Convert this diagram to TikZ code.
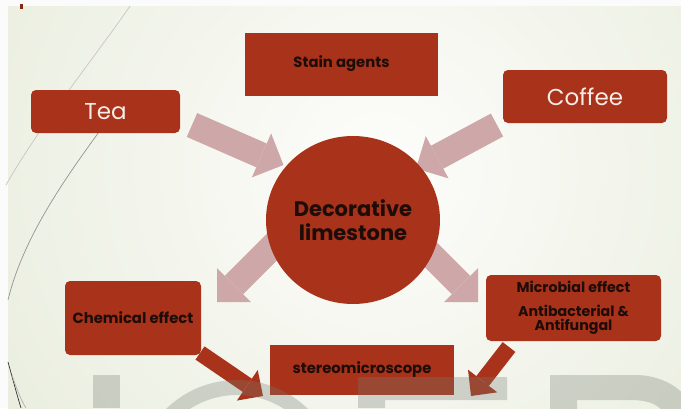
\documentclass[tikz,border=0pt]{standalone}
\usepackage{fontspec}
\setmainfont{Poppins}
\usetikzlibrary{arrows.meta,shapes.geometric}
\definecolor{boxred}{RGB}{168,50,26}
\definecolor{pinkc}{RGB}{206,168,168}
\definecolor{txtdark}{RGB}{30,12,8}
\definecolor{txtlight}{RGB}{246,236,232}
\definecolor{bgin}{RGB}{253,253,251}
\definecolor{bgout}{RGB}{228,233,214}
\definecolor{wm}{RGB}{120,125,115}
\begin{document}
\begin{tikzpicture}[x=1pt,y=-1pt,
  rbox/.style={fill=boxred, rounded corners=5pt, inner sep=0pt, align=center},
  sbox/.style={fill=boxred, inner sep=0pt, align=center},
  ltext/.style={text=txtlight, font=\fontsize{23}{26}\selectfont},
  btext/.style={text=txtdark, font=\bfseries\fontsize{14.8}{15}\selectfont},
  pinkarrow/.style={draw=pinkc, line width=26pt, -{Triangle[width=48pt,length=24pt,line width=0pt]}},
  redarrow/.style={draw=boxred, line width=16pt, -{Triangle[width=37pt,length=19pt,line width=0pt]}},
  decor/.style={line width=0.7pt}
]
\useasboundingbox (0,0) rectangle (681,408);
% background
\fill[white!97!gray] (0,0) rectangle (681,408);
\begin{scope}
  \clip (8,6) rectangle (681,408);
  \shade[inner color=bgin, outer color=bgout] (380,170) circle (580);
\end{scope}
\fill[boxred!80!black] (20,4) rectangle (23,9);
% decorative arcs
\draw[decor, gray!45] (130,6) .. controls (100,50) and (40,125) .. (6,185);
\draw[decor, gray!85] (115,110) .. controls (75,165) and (25,230) .. (8,300);
\draw[decor, gray!40!black] (8,362) .. controls (13,380) and (17,395) .. (21,408);
\draw[decor, gray!60] (12,375) .. controls (17,390) and (21,400) .. (26,408);
% arrow end points
\coordinate (teaT) at (192,125);   \coordinate (teaH) at (283.5,165);
\coordinate (cofT) at (497,125);   \coordinate (cofH) at (416,168.6);
\coordinate (blT) at (290,229);    \coordinate (blH) at (217,302);
\coordinate (brT) at (414,238);    \coordinate (brH) at (478,302);
\coordinate (chT) at (200,353);    \coordinate (chH) at (263,396);
\coordinate (miT) at (509,347);    \coordinate (miH) at (471,396);
% pink arrows
\draw[pinkarrow] (teaT) -- (teaH);
\draw[pinkarrow] (cofT) -- (cofH);
\draw[pinkarrow] (blT) -- (blH);
\draw[pinkarrow] (brT) -- (brH);
% circle
\node[ellipse, fill=boxred, minimum width=174pt, minimum height=168pt, inner sep=0pt,
      align=center, text=txtdark, font=\bfseries\fontsize{21}{24}\selectfont]
      (lime) at (353,220) {Decorative\\limestone};
% boxes
\node[rbox, ltext, minimum width=149pt, minimum height=43pt] (tea) at (105.5,111.5) {Tea};
\node[sbox, btext, minimum width=193pt, minimum height=63pt] (stain) at (341.5,64) {Stain agents};
\node[rbox, ltext, minimum width=164pt, minimum height=53pt] (coffee) at (585,96.5) {Coffee};
\node[rbox, btext, minimum width=136pt, minimum height=74pt] (chem) at (133,318) {Chemical effect};
\node[rbox, btext, font=\bfseries\fontsize{14.2}{14}\selectfont, minimum width=175pt, minimum height=66pt] (micro) at (573.5,308)
      {Microbial effect\\[10pt]Antibacterial \&\\Antifungal};
\node[sbox, btext, minimum width=184pt, minimum height=50pt] (stereo) at (362,370) {stereomicroscope};
% dark arrows
\draw[redarrow] (chT) -- (chH);
\draw[redarrow] (miT) -- (miH);
% watermark
\begin{scope}[fill=wm, opacity=0.3]
  \fill (93,375) rectangle (120,408);
  \fill[even odd rule] (237,481.5) circle (101.5) (237,481.5) circle (86.5);
  \fill (358,408) -- (358,377) -- (507,377) -- (507,400) -- (385,400) -- (385,408) -- cycle;
  \fill (550,410) -- (550,375) -- (635,375) .. controls (668,375) and (690,395) .. (692,410)
        -- (662,410) .. controls (655,403) and (645,400) .. (630,400) -- (577,400) -- (577,410) -- cycle;
\end{scope}
\end{tikzpicture}
\end{document}
